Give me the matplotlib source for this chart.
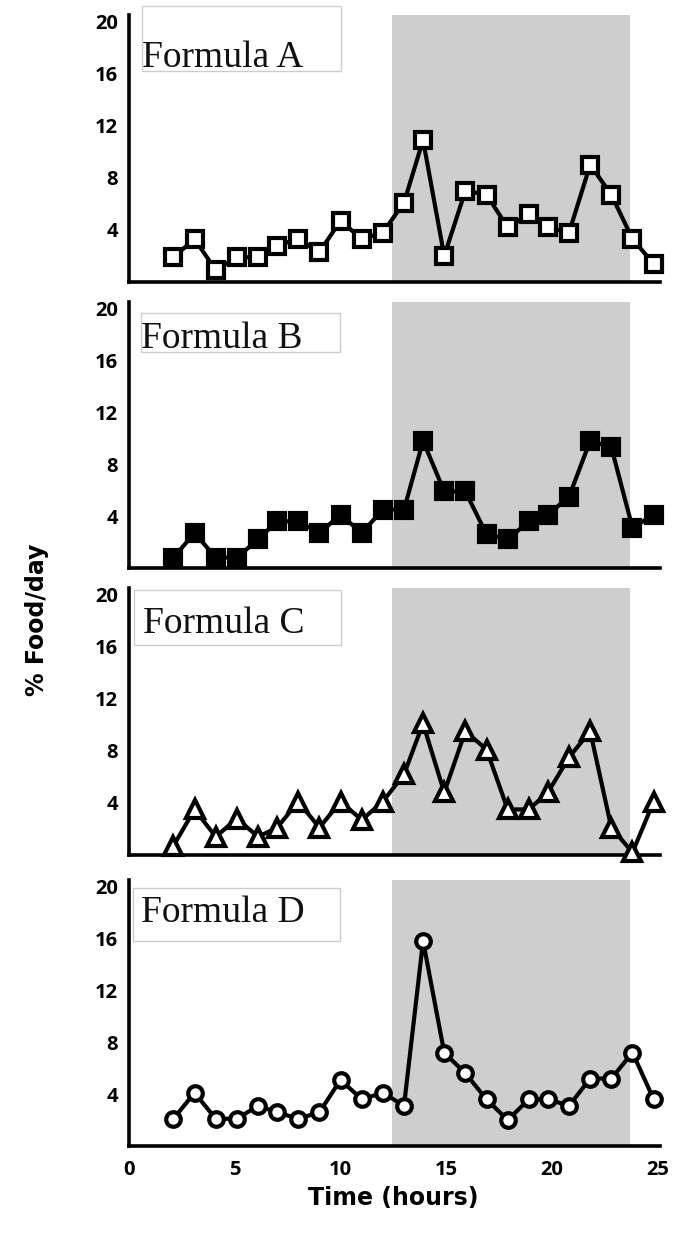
import matplotlib as mpl
mpl.use('Agg')
import matplotlib.pyplot as plt
from matplotlib.patches import Rectangle

# sampling times (hours) shared by all four panels
hours = [2.1, 3.1, 4.1, 5.1, 6.1, 7.0, 8.0, 9.0, 10.0, 11.0, 12.0, 13.0,
         13.9, 14.9, 15.9, 16.9, 17.9, 18.9, 19.8, 20.8, 21.8, 22.8, 23.8, 24.8]

formula_a = [1.9, 3.3, 0.9, 1.9, 1.9, 2.8, 3.3, 2.3, 4.7, 3.3, 3.8, 6.1,
             10.9, 2.0, 7.0, 6.7, 4.2, 5.2, 4.2, 3.8, 9.0, 6.7, 3.3, 1.4]
formula_b = [0.8, 2.7, 0.8, 0.8, 2.2, 3.6, 3.6, 2.7, 4.1, 2.7, 4.5, 4.5,
             9.8, 5.9, 5.9, 2.6, 2.2, 3.6, 4.1, 5.5, 9.8, 9.3, 3.1, 4.1]
formula_c = [0.7, 3.5, 1.4, 2.8, 1.4, 2.1, 4.1, 2.1, 4.1, 2.7, 4.1, 6.2,
             10.1, 4.8, 9.5, 8.1, 3.5, 3.5, 4.8, 7.5, 9.5, 2.1, 0.2, 4.1]
formula_d = [2.1, 4.1, 2.1, 2.1, 3.1, 2.6, 2.1, 2.6, 5.1, 3.6, 4.1, 3.1,
             15.8, 7.2, 5.6, 3.6, 2.0, 3.6, 3.6, 3.1, 5.2, 5.2, 7.2, 3.6]

series = [formula_a, formula_b, formula_c, formula_d]
names = ["Formula A", "Formula B", "Formula C", "Formula D"]
y_ticks = [4, 8, 12, 16, 20]
x_ticks = [0, 5, 10, 15, 20, 25]
dark_start, dark_end = 12.45, 23.7

W, H = 683, 1243
fig = plt.figure(figsize=(W / 100, H / 100), dpi=100)

# panel geometry in pixels (top, bottom), left/right shared
tops = [15, 302, 588, 880]
bottoms = [282, 568, 855, 1146]
left_px, right_px = 129, 660

markers = [('s', 'white', 11), ('s', 'black', 11), ('^', 'white', 13), ('o', 'white', 10.5)]
# label box (x0, y0, x1, y1) and text anchor (x, baseline) in axes fraction
boxes = [((0.0245, 0.790, 0.399, 1.034), (0.0245, 0.805)),
         ((0.0226, 0.812, 0.397, 0.959), (0.0226, 0.827)),
         ((0.0094, 0.787, 0.399, 0.993), (0.026, 0.831)),
         ((0.0066, 0.771, 0.397, 0.970), (0.0226, 0.842))]

for i in range(4):
  ax = fig.add_axes([left_px / W, 1 - bottoms[i] / H,
                     (right_px - left_px) / W, (bottoms[i] - tops[i]) / H])
  ax.axvspan(dark_start, dark_end, color='#cfcecf', lw=0, zorder=0)
  m, fc, ms = markers[i]
  ax.plot(hours, series[i], color='black', lw=3, marker=m, ms=ms,
          mfc=fc, mec='black', mew=3, clip_on=False, zorder=3)
  ax.set_xlim(0, 25.1)
  ax.set_ylim(0, 20.5)
  ax.set_yticks(y_ticks)
  ax.set_xticks(x_ticks)
  for s in ['top', 'right']:
    ax.spines[s].set_visible(False)
  for s in ['left', 'bottom']:
    ax.spines[s].set_linewidth(2.6)
  ax.tick_params(length=0)
  ax.tick_params(axis='y', pad=8)
  ax.tick_params(axis='x', pad=10, labelbottom=(i == 3))
  for lab in ax.get_yticklabels() + ax.get_xticklabels():
    lab.set_fontfamily('Open Sans')
    lab.set_fontweight('bold')
    lab.set_fontsize(14.5)

  (x0, y0, x1, y1), (tx, ty) = boxes[i]
  ax.add_patch(Rectangle((x0, y0), x1 - x0, y1 - y0, transform=ax.transAxes,
                         fc='white', ec='#cccccc', lw=1, clip_on=False, zorder=4))
  ax.text(tx, ty, names[i], transform=ax.transAxes, family='Liberation Serif',
          fontsize=27, color='#111111', ha='left', va='baseline', zorder=5)

fig.text(37 / W, 1 - 620 / H, '% Food/day', rotation=90, ha='center', va='center',
         fontsize=17, fontweight='bold', family='DejaVu Sans')
fig.text(393 / W, 1 - 1198 / H, 'Time (hours)', ha='center', va='center',
         fontsize=17, fontweight='bold', family='DejaVu Sans')

fig.savefig('out.png', dpi=100)
